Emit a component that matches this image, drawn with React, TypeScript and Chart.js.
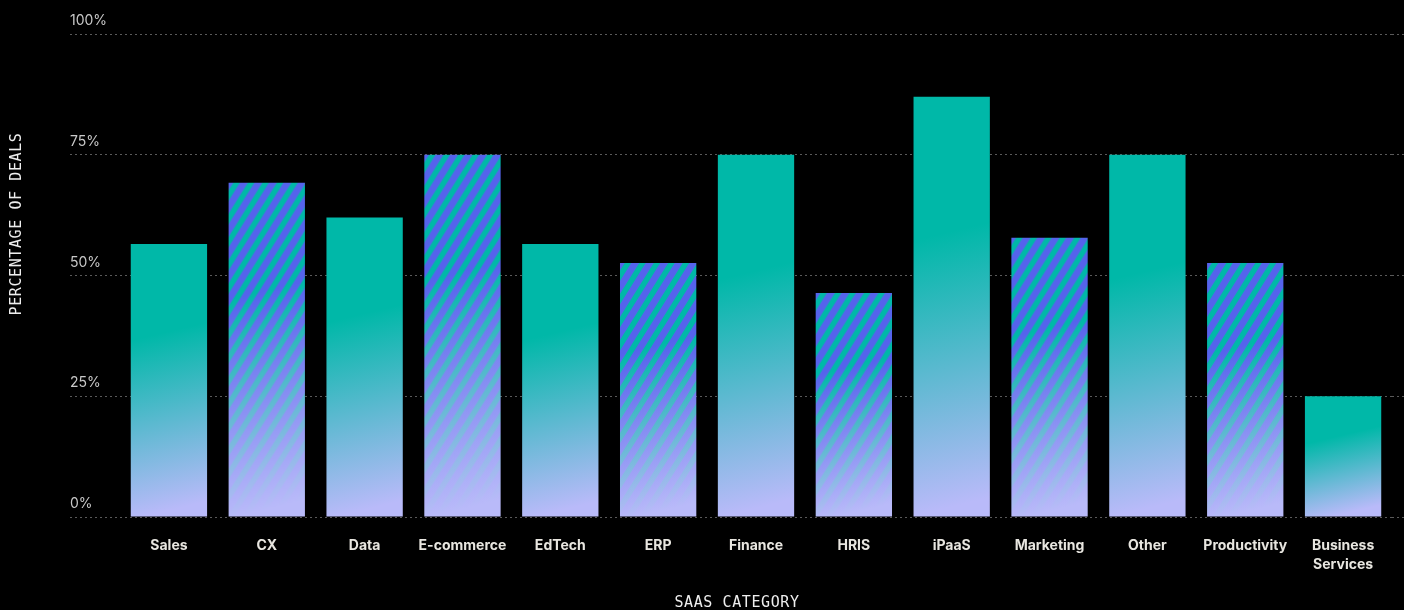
import React, { useEffect, useRef } from 'react';
import { Chart, registerables } from 'chart.js';

Chart.register(...registerables);

// ---------- data ----------
const categories: (string | string[])[] = [
  'Sales', 'CX', 'Data', 'E-commerce', 'EdTech', 'ERP', 'Finance', 'HRIS',
  'iPaaS', 'Marketing', 'Other', 'Productivity', ['Business', 'Services'],
];
const values: number[] = [56.5, 69.2, 62, 75, 56.5, 52.6, 75, 46.4, 87, 57.8, 75, 52.6, 25];
const striped: boolean[] = [false, true, false, true, false, true, false, true, false, true, false, true, false];
const yTickValues: number[] = [0, 25, 50, 75, 100];
const xTitle = 'SAAS CATEGORY';
const yTitle = 'PERCENTAGE OF DEALS';

// ---------- style ----------
const TEAL = '#00B8A8';
const BLUE = '#5563EC';
const LAV = 'rgb(185,186,249)';
const GRID = '#5a5a5a';
const BAR_PCT = 0.78;
const STRIPE_PERIOD = 14.5;
const STRIPE_BLUE = 0.55;
const STRIPE_SLOPE = 1.6;

function barFill(ctx: any) {
  const chart = ctx.chart;
  const area = chart.chartArea;
  if (!area || ctx.type !== 'data') return TEAL;
  const xs = chart.scales.x;
  const ys = chart.scales.y;
  const i = ctx.dataIndex;
  const v = values[i];
  const cx = xs.getPixelForValue(i);
  const top = ys.getPixelForValue(v);
  const base = ys.getPixelForValue(0);
  const w = ((area.right - area.left) / categories.length) * BAR_PCT;
  const h = base - top;
  const left = cx - w / 2;
  const tilt = h * 0.12;
  if (!striped[i]) {
    const g = chart.ctx.createLinearGradient(cx - tilt, top, cx + tilt, base);
    g.addColorStop(0, TEAL);
    g.addColorStop(0.33, TEAL);
    g.addColorStop(0.95, LAV);
    g.addColorStop(1, LAV);
    return g;
  }
  const off = document.createElement('canvas');
  const W = Math.ceil(w) + 4;
  const H = Math.ceil(h) + 4;
  off.width = W;
  off.height = H;
  const c = off.getContext('2d')!;
  c.fillStyle = TEAL;
  c.fillRect(0, 0, W, H);
  c.fillStyle = BLUE;
  const run = H / STRIPE_SLOPE;
  const bw = STRIPE_PERIOD * STRIPE_BLUE;
  for (let s = -run - STRIPE_PERIOD * 2; s < W + STRIPE_PERIOD; s += STRIPE_PERIOD) {
    c.beginPath();
    c.moveTo(s, H);
    c.lineTo(s + bw, H);
    c.lineTo(s + bw + run, 0);
    c.lineTo(s + run, 0);
    c.closePath();
    c.fill();
  }
  const g = c.createLinearGradient(W / 2 - tilt, 2, W / 2 + tilt, H - 2);
  g.addColorStop(0, 'rgba(185,186,249,0)');
  g.addColorStop(0.33, 'rgba(185,186,249,0)');
  g.addColorStop(0.95, 'rgba(185,186,249,1)');
  g.addColorStop(1, 'rgba(185,186,249,1)');
  c.fillStyle = g;
  c.fillRect(0, 0, W, H);
  const p = chart.ctx.createPattern(off, 'no-repeat');
  p.setTransform(new DOMMatrix([1, 0, 0, 1, left - 2, top - 2]));
  return p;
}

const titlePlugin = {
  id: 'axisTitles',
  afterDraw(chart: any) {
    const c = chart.ctx;
    const ys = chart.scales.y;
    c.save();
    c.fillStyle = '#eeeeee';
    c.font = '15px "DejaVu Sans Mono"';
    (c as any).letterSpacing = '0.6px';
    c.textAlign = 'center';
    c.textBaseline = 'middle';
    c.fillText(xTitle, (ys.left + chart.width) / 2, 603);
    c.translate(17, 224);
    c.rotate(-Math.PI / 2);
    c.fillText(yTitle, 0, 0);
    c.restore();
  },
};

export default function App() {
  const ref = useRef<HTMLCanvasElement>(null);
  useEffect(() => {
    document.body.style.margin = '0';
    document.body.style.background = '#000';
    const chart = new Chart(ref.current!, {
      type: 'bar',
      data: {
        labels: categories as any,
        datasets: [
          {
            data: values,
            backgroundColor: barFill as any,
            borderWidth: 0,
            barPercentage: BAR_PCT,
            categoryPercentage: 1,
          },
        ],
      },
      options: {
        animation: false,
        responsive: true,
        maintainAspectRatio: false,
        layout: { padding: { left: 70, top: 34, right: 0, bottom: 0 } },
        plugins: { legend: { display: false }, tooltip: { enabled: false } },
        scales: {
          x: {
            grid: { display: false, drawTicks: false },
            border: { display: false },
            ticks: {
              color: '#e8e6e0',
              font: { family: 'Inter', size: 14, weight: 'bold', lineHeight: 1.3 },
              padding: 20,
              maxRotation: 0,
              autoSkip: false,
            },
            afterFit: (s: any) => { s.height = 93; },
          },
          y: {
            position: 'left',
            min: 0,
            max: 100,
            afterBuildTicks: (s: any) => { s.ticks = yTickValues.map((v) => ({ value: v })); },
            grid: {
              color: GRID,
              tickColor: GRID,
              tickLength: 50,
              tickBorderDash: [2, 3],
            },
            border: { display: false, dash: [2, 3] },
            ticks: {
              color: '#c8c8c8',
              font: { family: 'Inter', size: 14 },
              crossAlign: 'far',
              labelOffset: -13,
              padding: 0,
              callback: (v: any) => v + '%',
            },
            afterFit: (s: any) => { s.width = 50; },
          },
          y2: {
            position: 'right',
            min: 0,
            max: 100,
            afterBuildTicks: (s: any) => { s.ticks = yTickValues.map((v) => ({ value: v })); },
            grid: {
              drawOnChartArea: false,
              tickColor: GRID,
              tickLength: 12,
              tickBorderDash: [2, 3],
            },
            border: { display: false },
            ticks: { display: false },
            afterFit: (s: any) => { s.width = 12; },
          },
        },
      } as any,
      plugins: [titlePlugin],
    });
    return () => chart.destroy();
  }, []);
  return (
    <div style={{ position: 'fixed', left: 0, top: 0, width: 1404, height: 610, background: '#000' }}>
      <canvas ref={ref} />
    </div>
  );
}
